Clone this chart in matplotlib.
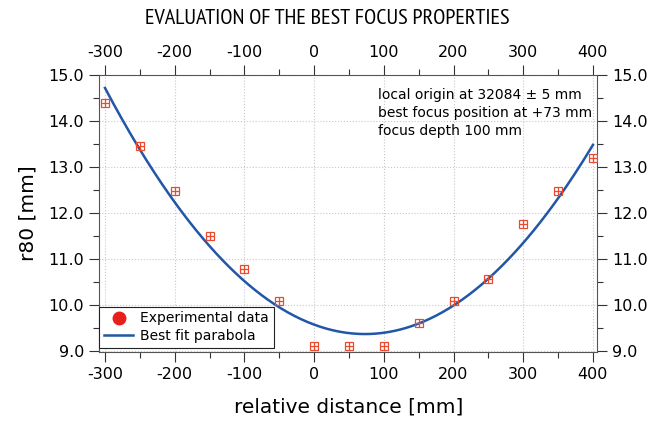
import numpy as np
import matplotlib
matplotlib.use("Agg")
import matplotlib.pyplot as plt
from matplotlib.lines import Line2D
from matplotlib.ticker import MultipleLocator, FormatStrFormatter
import logging
logging.getLogger('matplotlib.font_manager').setLevel(logging.ERROR)

# Data
distance = [-300, -250, -200, -150, -100, -50, 0, 50, 100, 150, 200, 250, 300, 350, 400]
r80 = [14.40, 13.45, 12.48, 11.50, 10.78, 10.07, 9.10, 9.10, 9.10, 9.60, 10.07, 10.55, 11.75, 12.47, 13.20]

# best-fit parabola parameters
fit_vertex = 73.0
fit_min = 9.36
fit_curv = 3.85e-5

title = "EVALUATION OF THE BEST FOCUS PROPERTIES"
info_lines = ["local origin at 32084 \u00b1 5 mm",
              "best focus position at +73 mm",
              "focus depth 100 mm"]

plt.rcParams['font.family'] = ['DejaVu Sans']
plt.rcParams['axes.unicode_minus'] = False
fig = plt.figure(figsize=(6.54, 4.21), dpi=100)
ax = fig.add_axes([0.152, 0.164, 0.761, 0.658])

red = '#ea4a2e'
blue = '#2156a8'

xf = np.linspace(distance[0], distance[-1], 300)
yf = fit_curv * (xf - fit_vertex) ** 2 + fit_min
ax.plot(xf, yf, color=blue, lw=1.8, zorder=3)
ax.plot(distance, r80, ls='none', marker='s', ms=5.8, mfc='none', mec=red, mew=0.9, zorder=4)
ax.plot(distance, r80, ls='none', marker='+', ms=5.8, mec=red, mew=0.9, zorder=4)

ax.set_xlim(-308, 406)
ax.set_ylim(8.97, 15.0)
ax.xaxis.set_major_locator(MultipleLocator(100))
ax.xaxis.set_minor_locator(MultipleLocator(50))
ax.yaxis.set_major_locator(MultipleLocator(1.0))
ax.yaxis.set_minor_locator(MultipleLocator(0.5))
ax.yaxis.set_major_formatter(FormatStrFormatter('%.1f'))
ax.grid(True, which='major', color='#c8c8c8', ls=':', lw=0.8)
ax.tick_params(which='both', direction='out', top=True, right=True,
               labeltop=True, labelright=True, labelsize=11.5, color='#333333')
ax.tick_params(which='major', length=7, width=0.8, pad=4)
ax.tick_params(which='minor', length=4, width=0.8)
for s in ax.spines.values():
    s.set_color('#555555')
    s.set_linewidth(0.8)

ax.set_xlabel("relative distance [mm]", fontsize=14.5, labelpad=11)
ax.set_ylabel("r80 [mm]", fontsize=14.5, labelpad=8)
fig.text(0.5, 0.957, title, ha='center', va='center', fontsize=16,
         family=['PT Sans Narrow', 'Archivo Narrow', 'Roboto Condensed', 'Roboto'])

ax.text(0.56, 0.953, "\n".join(info_lines), transform=ax.transAxes,
        ha='left', va='top', fontsize=10, linespacing=1.35)

handles = [Line2D([], [], ls='none', marker='o', ms=9, mfc='#e8201c', mec='#e8201c'),
           Line2D([], [], color=blue, lw=1.8)]
leg = ax.legend(handles, ["Experimental data", "Best fit parabola"], loc='lower left',
                fontsize=10, frameon=True, fancybox=False, edgecolor='#222222',
                framealpha=1, borderaxespad=0.1, handlelength=2.1, borderpad=0.35,
                labelspacing=0.25, handletextpad=0.5, bbox_to_anchor=(-0.003, 0.01))
leg.get_frame().set_linewidth(0.8)

fig.savefig("out.png", dpi=100)
